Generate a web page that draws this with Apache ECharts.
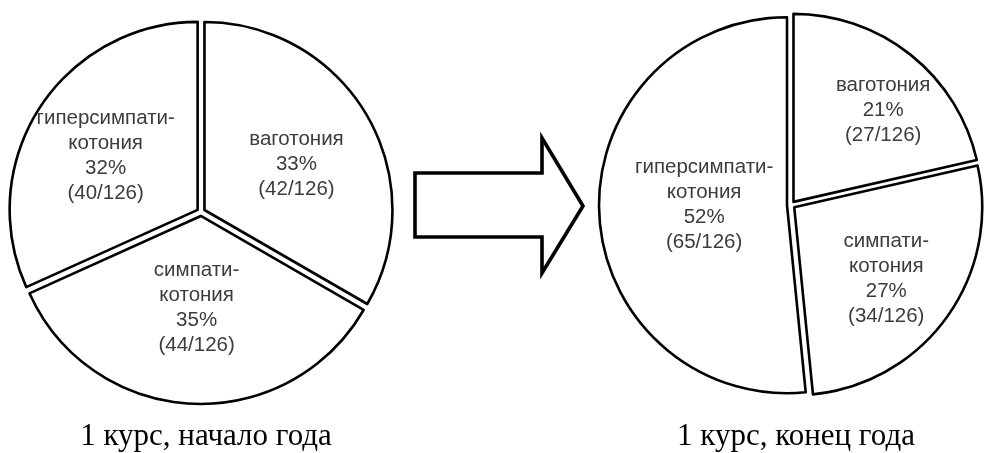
<!DOCTYPE html>
<html>
<head>
<meta charset="utf-8">
<script src="https://cdn.jsdelivr.net/npm/echarts@6/dist/echarts.min.js"></script>
<style>
  html, body { margin: 0; padding: 0; background: #fff; }
  #chart { width: 984px; height: 453px; }
</style>
</head>
<body>
<div id="chart"></div>
<script>
// Groups of 1st-year students by autonomic tone (n = 126)
const categories = ['ваготония', 'симпати-\nкотония', 'гиперсимпати-\nкотония'];
const startOfYear = [42, 44, 40];
const endOfYear = [27, 34, 65];
const total = 126;
const captions = ['1 курс, начало года', '1 курс, конец года'];

const pieRadius = 188;
const explode = 4;
const labelRingRadius = 184;
const centers = [[201, 212], [791, 205]];

function toData(values) {
  return categories.map((name, i) => ({ name: name, value: values[i], selected: true }));
}

function labelText(p) {
  return p.name + '\n' + Math.round(p.percent) + '%\n(' + p.value + '/' + total + ')';
}

const sliceStyle = { color: '#ffffff', borderColor: '#000000', borderWidth: 2.6 };

function slices(values, center) {
  return {
    type: 'pie',
    center: center,
    radius: [0, pieRadius],
    startAngle: 90,
    clockwise: true,
    selectedMode: 'multiple',
    selectedOffset: explode,
    avoidLabelOverlap: false,
    silent: true,
    label: { show: false },
    labelLine: { show: false },
    itemStyle: sliceStyle,
    select: { itemStyle: sliceStyle },
    emphasis: { disabled: true },
    data: toData(values)
  };
}

// transparent companion ring that only carries the labels
function labels(values, center) {
  const lab = {
    show: true,
    position: 'inside',
    formatter: labelText,
    color: '#3c3c3c',
    fontFamily: 'Liberation Sans, Arial, sans-serif',
    fontSize: 20.5,
    lineHeight: 25,
    align: 'center'
  };
  return {
    type: 'pie',
    center: center,
    radius: [0, labelRingRadius],
    startAngle: 90,
    clockwise: true,
    selectedMode: 'multiple',
    selectedOffset: explode,
    avoidLabelOverlap: false,
    silent: true,
    z: 5,
    label: lab,
    labelLine: { show: false },
    itemStyle: { color: 'rgba(0,0,0,0)', borderWidth: 0 },
    select: { itemStyle: { color: 'rgba(0,0,0,0)', borderWidth: 0 }, label: lab },
    emphasis: { disabled: true },
    data: toData(values)
  };
}

const chart = echarts.init(document.getElementById('chart'), null, { renderer: 'canvas' });
chart.setOption({
  animation: false,
  backgroundColor: '#ffffff',
  title: captions.map((t, i) => ({
    text: t,
    left: centers[i][0],
    top: 416,
    textAlign: 'center',
    textStyle: {
      fontFamily: 'Liberation Serif, Times New Roman, serif',
      fontSize: 31,
      fontWeight: 'normal',
      color: '#000000'
    }
  })),
  graphic: [{
    type: 'polygon',
    shape: {
      points: [[415, 173], [542, 173], [542, 138], [583, 206], [542, 273], [542, 237], [415, 237]]
    },
    style: { fill: '#ffffff', stroke: '#000000', lineWidth: 3.6, lineJoin: 'miter' }
  }],
  series: [
    slices(startOfYear, centers[0]),
    slices(endOfYear, centers[1]),
    labels(startOfYear, centers[0]),
    labels(endOfYear, centers[1])
  ]
});
</script>
</body>
</html>
